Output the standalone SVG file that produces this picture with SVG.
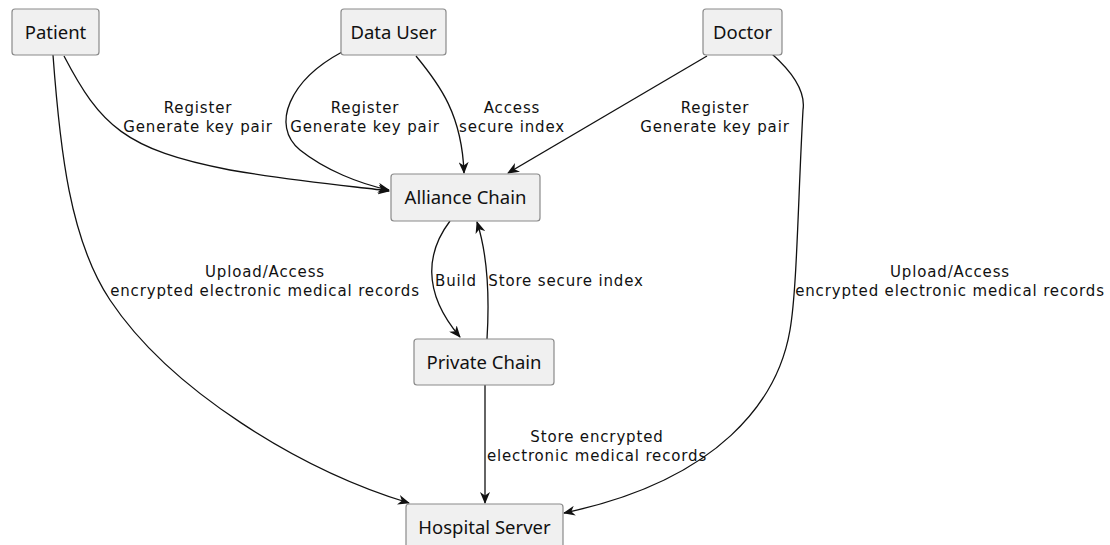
<svg xmlns="http://www.w3.org/2000/svg" width="1110" height="545" viewBox="0 0 1110 545">
<defs>
<marker id="arr" viewBox="0 0 12 10" refX="11" refY="5" markerWidth="12" markerHeight="10" markerUnits="userSpaceOnUse" orient="auto">
<path d="M0,0 L12,5 L0,10 L3.5,5 z" fill="#111"/>
</marker>
<style>
.node rect{fill:#f0f0f0;stroke:#8a8a8a;stroke-width:1.2}
.node text{font-family:"Noto Sans","Open Sans",sans-serif;font-size:18.5px;fill:#111;text-anchor:middle}
.edges path{fill:none;stroke:#111;stroke-width:1.3;marker-end:url(#arr)}
.lbl{font-family:"DejaVu Sans","Noto Sans",sans-serif;font-size:15px;letter-spacing:0.85px;fill:#111;text-anchor:middle}
</style>
</defs>
<rect width="1110" height="545" fill="#fff"/>
<g class="edges">
<path d="M64,56 C100,125 125,150 230,170 C300,182 360,187 389,191"/>
<path d="M342,52 C290,80 270,125 300,150 C325,170 360,184 389,190"/>
<path d="M416,56 C440,85 462,115 464,173"/>
<path d="M707,56 L508,173"/>
<path d="M53,55 C60,150 70,240 110,300 C170,390 300,470 409,503"/>
<path d="M772,54 C790,70 806,90 803,110 C798,200 797,290 790,330 C778,400 720,480 564,513"/>
<path d="M450,221 C428,250 420,290 460,337"/>
<path d="M487,339 C490,290 486,250 477,222"/>
<path d="M485,385 L485,503"/>
</g>
<g id="patient" class="node"><rect x="12" y="9" width="87" height="46" rx="3"/><text x="55.5" y="38.5">Patient</text></g>
<g id="datauser" class="node"><rect x="341" y="9" width="105" height="46" rx="3"/><text x="393.5" y="38.5">Data User</text></g>
<g id="doctor" class="node"><rect x="703" y="9" width="79" height="46" rx="3"/><text x="742.5" y="38.5">Doctor</text></g>
<g id="alliance" class="node"><rect x="391" y="174" width="149" height="47" rx="3"/><text x="465.5" y="204">Alliance Chain</text></g>
<g id="private" class="node"><rect x="414" y="339" width="140" height="46" rx="3"/><text x="484" y="368.5">Private Chain</text></g>
<g id="hospital" class="node"><rect x="406" y="504" width="157" height="46" rx="3"/><text x="484.5" y="533.5">Hospital Server</text></g>
<g id="labels">
<text class="lbl" x="198" y="113">Register</text>
<text class="lbl" x="198" y="132">Generate key pair</text>
<text class="lbl" x="365" y="113">Register</text>
<text class="lbl" x="365" y="132">Generate key pair</text>
<text class="lbl" x="512" y="113">Access</text>
<text class="lbl" x="512" y="132">secure index</text>
<text class="lbl" x="715" y="113">Register</text>
<text class="lbl" x="715" y="132">Generate key pair</text>
<text class="lbl" x="265" y="277">Upload/Access</text>
<text class="lbl" x="265" y="296">encrypted electronic medical records</text>
<text class="lbl" x="950" y="277">Upload/Access</text>
<text class="lbl" x="950" y="296">encrypted electronic medical records</text>
<text class="lbl" x="456" y="286">Build</text>
<text class="lbl" x="566" y="286">Store secure index</text>
<text class="lbl" x="597" y="442">Store encrypted</text>
<text class="lbl" x="597" y="461">electronic medical records</text>
</g>
</svg>
